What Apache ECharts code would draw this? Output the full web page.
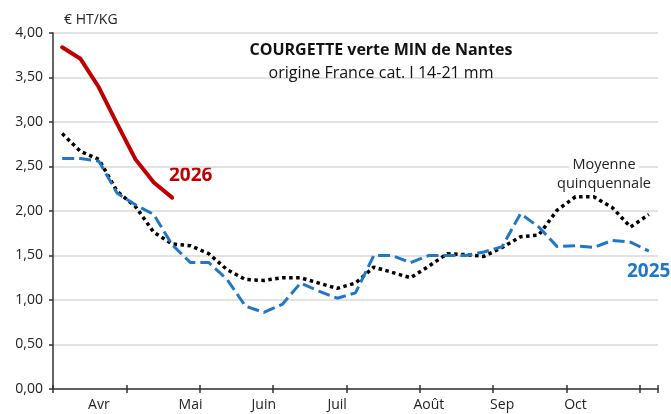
<!DOCTYPE html>
<html>
<head>
<meta charset="utf-8">
<script src="https://cdn.jsdelivr.net/npm/echarts@6/dist/echarts.min.js"></script>
<style>
  html, body { margin: 0; padding: 0; background: #fff; }
  #chart { width: 671px; height: 414px; }
</style>
</head>
<body>
<div id="chart"></div>
<script>
// weekly categories (week numbers), month labels placed on some weeks
const weeks = [14, 15, 16, 17, 18, 19, 20, 21, 22, 23, 24, 25, 26, 27, 28, 29, 30,
  31, 32, 33, 34, 35, 36, 37, 38, 39, 40, 41, 42, 43, 44, 45, 46];
const monthLabels = { 16: 'Avr', 21: 'Mai', 25: 'Juin', 29: 'Juil', 34: 'Août', 38: 'Sep', 42: 'Oct' };

const prices2026 = [3.84, 3.71, 3.39, 2.98, 2.58, 2.32, 2.15];
const prices2025 = [2.59, 2.59, 2.56, 2.2, 2.07, 1.96, 1.62, 1.42, 1.42, 1.23, 0.93, 0.86,
  0.95, 1.19, 1.1, 1.02, 1.08, 1.5, 1.5, 1.42, 1.5, 1.5, 1.5, 1.54, 1.6, 1.97, 1.82,
  1.6, 1.61, 1.59, 1.67, 1.65, 1.55];
const pricesAvg = [2.87, 2.67, 2.58, 2.22, 2.05, 1.76, 1.63, 1.61, 1.52, 1.34, 1.23, 1.22,
  1.25, 1.25, 1.19, 1.13, 1.19, 1.37, 1.31, 1.25, 1.38, 1.52, 1.51, 1.49, 1.59, 1.71,
  1.73, 2.01, 2.16, 2.16, 2.04, 1.82, 1.96];

const font = 'Open Sans';
const chart = echarts.init(document.getElementById('chart'));

const baseX = {
  type: 'category',
  data: weeks,
  boundaryGap: true,
  axisLine: { show: true, lineStyle: { color: '#333', width: 1.5 } },
  axisTick: {
    show: true,
    interval: i => i % 4 === 0,
    length: 4,
    lineStyle: { color: '#333', width: 1.5 }
  },
  splitLine: { show: false }
};

chart.setOption({
  animation: false,
  textStyle: { fontFamily: font },
  title: [
    {
      text: 'COURGETTE verte MIN de Nantes',
      left: 376, top: 37, textAlign: 'center',
      textStyle: { fontFamily: font, fontSize: 16, fontWeight: 'bold', color: '#111' }
    },
    {
      text: 'origine France cat. I 14-21 mm',
      left: 376, top: 60, textAlign: 'center',
      textStyle: { fontFamily: font, fontSize: 16, fontWeight: 'normal', color: '#111' }
    }
  ],
  graphic: [
    { type: 'text', x: 64, y: 20, style: { text: '€ HT/KG', font: '14px "Open Sans"', fill: '#222', verticalAlign: 'middle' } },
    { type: 'text', x: 169, y: 176, style: { text: '2026', font: 'bold 19px "Open Sans"', fill: '#c00000', verticalAlign: 'middle' } },
    { type: 'text', x: 627, y: 272, style: { text: '2025', font: 'bold 19px "Open Sans"', fill: '#1f77c6', verticalAlign: 'middle' } },
    {
      type: 'text', x: 604, y: 165, z: 1,
      style: {
        text: 'Moyenne', font: '14.5px "Open Sans"', fill: '#222',
        align: 'center', verticalAlign: 'middle',
        backgroundColor: '#fff', padding: [0, 3]
      }
    },
    {
      type: 'text', x: 604, y: 184, z: 1,
      style: {
        text: 'quinquennale', font: '14.5px "Open Sans"', fill: '#222',
        align: 'center', verticalAlign: 'middle'
      }
    }
  ],
  grid: { left: 53, right: 13, top: 33, bottom: 25 },
  xAxis: [
    Object.assign({}, baseX, {
      axisLabel: {
        interval: 0,
        margin: 9,
        fontSize: 14,
        color: '#222',
        formatter: v => monthLabels[v] || ''
      }
    }),
    Object.assign({}, baseX, {
      position: 'bottom',
      axisLine: { show: false },
      axisLabel: { show: false },
      axisTick: Object.assign({}, baseX.axisTick, { inside: true })
    })
  ],
  yAxis: {
    type: 'value',
    min: 0,
    max: 4,
    interval: 0.5,
    axisLine: { show: true, lineStyle: { color: '#333', width: 1.5 } },
    axisTick: { show: true, length: 4, lineStyle: { color: '#333', width: 1.5 } },
    axisLabel: {
      fontSize: 14,
      color: '#222',
      margin: 10,
      formatter: v => v.toFixed(2).replace('.', ',')
    },
    splitLine: { show: true, lineStyle: { color: '#d9d9d9', width: 1.5 } }
  },
  series: [
    {
      name: 'Moyenne quinquennale',
      type: 'line',
      data: pricesAvg,
      showSymbol: false,
      z: 3,
      lineStyle: { color: '#000', width: 3.5, type: [3.5, 3.5], cap: 'butt' }
    },
    {
      name: '2025',
      type: 'line',
      data: prices2025,
      showSymbol: false,
      z: 4,
      lineStyle: { color: '#1f77c6', width: 3, type: [12, 5], cap: 'butt' }
    },
    {
      name: '2026',
      type: 'line',
      data: prices2026,
      showSymbol: false,
      z: 5,
      lineStyle: { color: '#c00000', width: 4, cap: 'round', join: 'round' }
    }
  ]
});
</script>
</body>
</html>
